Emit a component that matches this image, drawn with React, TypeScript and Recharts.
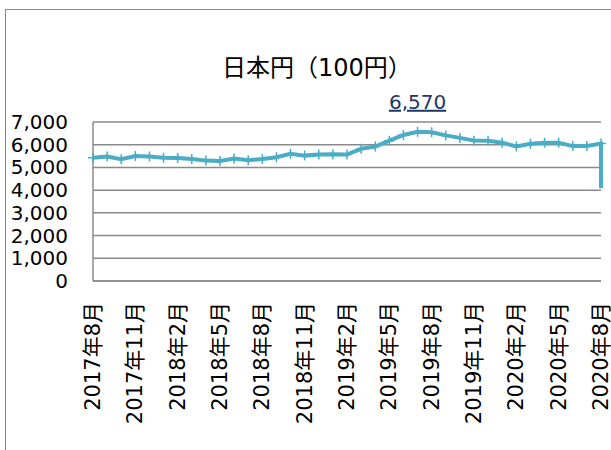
import React from 'react';
import { LineChart, Line, XAxis, YAxis, CartesianGrid } from 'recharts';

// monthly index 0 = 2017年8月 ... 36 = 2020年8月
const tickLabels = [
  '2017年8月', '2017年11月', '2018年2月', '2018年5月', '2018年8月', '2018年11月',
  '2019年2月', '2019年5月', '2019年8月', '2019年11月', '2020年2月', '2020年5月', '2020年8月',
];
const tickMonths = [0, 3, 6, 9, 12, 15, 18, 21, 24, 27, 30, 33, 36];
const rates = [
  5430, 5480, 5360, 5500, 5480, 5430, 5420, 5370, 5300, 5280, 5390, 5320, 5370,
  5450, 5600, 5520, 5570, 5580, 5570, 5820, 5920, 6180, 6430, 6570, 6550, 6410,
  6300, 6180, 6170, 6090, 5920, 6040, 6090, 6090, 5940, 5940, 6050,
];
const finalRate = 4080; // sharp drop at the very end
const yTicks = [0, 1000, 2000, 3000, 4000, 5000, 6000, 7000];
const peakIndex = 23;

const LINE = '#4BACC6';
const GRID = '#8a8a8a';
const FONT = '"DejaVu Sans", "Noto Sans CJK JP", sans-serif';

const data = [
  ...rates.map((v, i) => ({ m: i, v })),
  { m: rates.length - 1, v: finalRate, end: true },
];

const PlusDot = (props: any) => {
  const { cx, cy, payload } = props;
  if (payload?.end) return <g />;
  return (
    <path
      d={`M${cx - 5},${cy}H${cx + 5}M${cx},${cy - 5}V${cy + 5}`}
      stroke={LINE}
      strokeWidth={1.5}
      fill="none"
    />
  );
};

const XTick = (props: any) => {
  const { x, payload } = props;
  const idx = tickMonths.indexOf(payload.value);
  return (
    <text
      transform={`translate(${x},302) rotate(-90)`}
      textAnchor="end"
      dominantBaseline="central"
      fontSize={21}
      fontFamily={FONT}
      fill="#000"
    >
      {tickLabels[idx]}
    </text>
  );
};

const YTick = (props: any) => {
  const { y, payload } = props;
  return (
    <text x={68} y={y} textAnchor="end" dominantBaseline="central" fontSize={20} fontFamily={FONT} fill="#000">
      {payload.value.toLocaleString('en-US')}
    </text>
  );
};

const PeakLabel = (props: any) => {
  const { x, y, index } = props;
  if (index !== peakIndex) return null;
  return (
    <text
      x={x}
      y={y - 23}
      textAnchor="middle"
      fontSize={20}
      fontFamily={FONT}
      fill="#1F3864"
      textDecoration="underline"
    >
      {rates[peakIndex].toLocaleString('en-US')}
    </text>
  );
};

export default function App() {
  return (
    <div style={{ position: 'fixed', left: 0, top: 0, width: 611, height: 450, overflow: 'hidden', background: '#fff' }}>
      <div
        style={{
          position: 'absolute',
          left: 5,
          top: 9,
          width: 700,
          height: 600,
          border: '1.5px solid #8c8c8c',
        }}
      />
      <div
        style={{
          position: 'absolute',
          left: 222,
          top: 48,
          whiteSpace: 'nowrap',
          fontFamily: FONT,
          fontSize: 24,
          color: '#000',
        }}
      >
        日本円（100円）
      </div>
      <div style={{ position: 'absolute', left: 0, top: 0 }}>
        <LineChart width={611} height={450} data={data} margin={{ top: 122, right: 10, left: 0, bottom: 0 }}>
          <CartesianGrid vertical={false} stroke={GRID} strokeWidth={1.5} />
          <XAxis
            dataKey="m"
            type="number"
            domain={[0, 36]}
            ticks={tickMonths}
            tick={<XTick />}
            tickLine={false}
            axisLine={{ stroke: GRID, strokeWidth: 1.5 }}
            height={169}
            interval={0}
          />
          <YAxis
            domain={[0, 7000]}
            ticks={yTicks}
            tick={<YTick />}
            tickLine={false}
            axisLine={{ stroke: GRID, strokeWidth: 1.5 }}
            width={93}
            interval={0}
          />
          <Line
            dataKey="v"
            stroke={LINE}
            strokeWidth={4}
            dot={<PlusDot />}
            activeDot={false}
            label={<PeakLabel />}
            isAnimationActive={false}
            type="linear"
          />
        </LineChart>
      </div>
    </div>
  );
}
